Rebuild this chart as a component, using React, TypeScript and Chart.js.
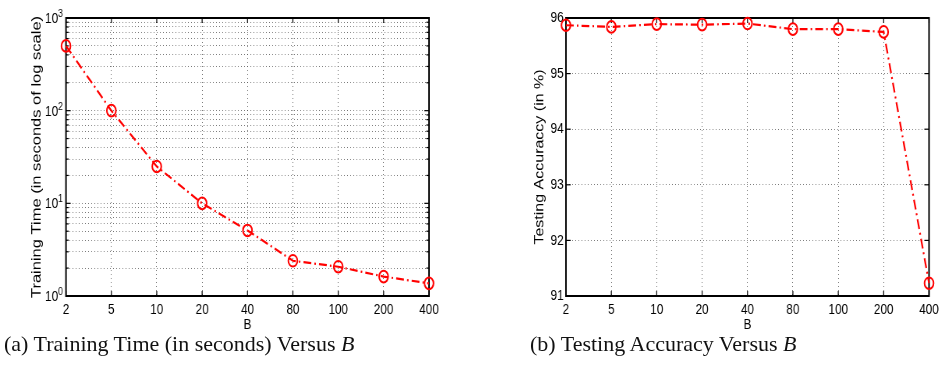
import React, { useEffect, useRef } from 'react';
import { Chart, registerables } from 'chart.js';

Chart.register(...registerables);

// ---- data ----
const bLabels = ['2', '5', '10', '20', '40', '80', '100', '200', '400'];
const trainingTime = [500, 100, 25, 10, 5.1, 2.4, 2.07, 1.62, 1.37];
const testingAccuracy = [95.87, 95.84, 95.89, 95.88, 95.9, 95.8, 95.8, 95.75, 91.23];
const logTickValues = [
  1, 2, 3, 4, 5, 6, 7, 8, 9,
  10, 20, 30, 40, 50, 60, 70, 80, 90,
  100, 200, 300, 400, 500, 600, 700, 800, 900,
  1000,
];
const logLabelExponents = [0, 1, 2, 3];
const accuracyTicks = [91, 92, 93, 94, 95, 96];

const SX = 0.78; // horizontal squeeze of the exported figure
const FONT = '"Liberation Sans", Arial, Helvetica, sans-serif';
const H = 340;

const isPow10 = (v: number) => Math.abs(Math.log10(v) - Math.round(Math.log10(v))) < 1e-9;

const framePlugin = {
  id: 'frame',
  beforeDatasetsDraw(chart: any) {
    const { ctx, chartArea: a, scales } = chart;
    const isLog = scales.y.type === 'logarithmic';
    ctx.save();
    ctx.strokeStyle = '#000';
    ctx.lineWidth = 1.2;
    const seg = (x1: number, y1: number, x2: number, y2: number) => {
      ctx.beginPath();
      ctx.moveTo(x1, y1);
      ctx.lineTo(x2, y2);
      ctx.stroke();
    };
    scales.x.ticks.forEach((_t: any, i: number) => {
      const px = scales.x.getPixelForTick(i);
      seg(px, a.bottom, px, a.bottom - 5);
      seg(px, a.top, px, a.top + 5);
    });
    scales.y.ticks.forEach((t: any) => {
      const py = scales.y.getPixelForValue(t.value);
      const len = !isLog || isPow10(t.value) ? 6 : 3.5;
      seg(a.left, py, a.left + len, py);
      seg(a.right, py, a.right - len, py);
    });
    ctx.lineWidth = 2;
    ctx.strokeRect(a.left, a.top, a.right - a.left, a.bottom - a.top);
    ctx.restore();
  },
};

const logLabelPlugin = {
  id: 'logLabels',
  afterDraw(chart: any) {
    const { ctx, chartArea: a, scales } = chart;
    if (scales.y.type !== 'logarithmic') return;
    ctx.save();
    ctx.fillStyle = '#000';
    logLabelExponents.forEach((e) => {
      const py = scales.y.getPixelForValue(Math.pow(10, e));
      const exp = String(e);
      ctx.font = `11px ${FONT}`;
      const ew = ctx.measureText(exp).width;
      const right = a.left - 4;
      ctx.textBaseline = 'alphabetic';
      ctx.textAlign = 'left';
      ctx.fillText(exp, right - ew, py - 1);
      ctx.font = `15px ${FONT}`;
      ctx.textAlign = 'right';
      ctx.textBaseline = 'middle';
      ctx.fillText('10', right - ew, py + 1);
    });
    ctx.restore();
  },
};

type Kind = 'time' | 'acc';

function makeConfig(kind: Kind): any {
  const isTime = kind === 'time';
  const padLeft = isTime ? 33.2 : 75.5;
  const yWidth = isTime ? 51.4 : 47.5;
  const padRight = isTime ? 53 : 12.5;
  const gridCommon = { color: 'rgba(0,0,0,0.55)', lineWidth: 1, drawTicks: false };
  const yScale: any = isTime
    ? {
        type: 'logarithmic',
        min: 1,
        max: 1000,
        afterBuildTicks: (s: any) => {
          s.ticks = logTickValues.map((v) => ({ value: v, major: isPow10(v) }));
        },
        ticks: { display: false },
        title: {
          display: true,
          text: 'Training Time (in seconds of log scale)',
          color: '#000',
          font: { size: 16.5, family: FONT },
          padding: { top: 4, bottom: 4 },
        },
      }
    : {
        type: 'linear',
        min: 91,
        max: 96,
        afterBuildTicks: (s: any) => {
          s.ticks = accuracyTicks.map((v) => ({ value: v }));
        },
        ticks: { color: '#000', font: { size: 15, family: FONT }, padding: 3 },
        title: {
          display: true,
          text: 'Testing Accuraccy (in %)',
          color: '#000',
          font: { size: 16, family: FONT },
          padding: { top: 4, bottom: 4 },
        },
      };
  yScale.grid = { ...gridCommon };
  yScale.border = { display: false, dash: [1, 3] };
  yScale.afterFit = (s: any) => {
    s.width = yWidth;
    s.paddingTop = 0;
    s.paddingBottom = 0;
  };

  return {
    type: 'line',
    data: {
      labels: bLabels,
      datasets: [
        {
          data: isTime ? trainingTime : testingAccuracy,
          borderColor: '#ff0000',
          borderWidth: 2.2,
          borderDash: [10, 4, 2, 4],
          pointStyle: 'circle',
          pointRadius: 5.8,
          pointBorderWidth: 2,
          pointBorderColor: '#ff0000',
          pointBackgroundColor: 'rgba(0,0,0,0)',
          fill: false,
          tension: 0,
          clip: false,
        },
      ],
    },
    options: {
      animation: false,
      responsive: false,
      devicePixelRatio: 1,
      layout: { padding: { left: padLeft, right: padRight, top: 18, bottom: 0 } },
      plugins: { legend: { display: false }, tooltip: { enabled: false } },
      scales: {
        x: {
          type: 'category',
          offset: false,
          grid: { ...gridCommon, offset: false },
          border: { display: false, dash: [1, 3] },
          ticks: {
            color: '#000',
            font: { size: 15, family: FONT },
            padding: 5,
            maxRotation: 0,
            autoSkip: false,
          },
          title: {
            display: true,
            text: 'B',
            color: '#000',
            font: { size: 15, family: FONT },
            padding: { top: 0, bottom: 6 },
          },
          afterFit: (s: any) => {
            s.height = 44;
            s.paddingLeft = 0;
            s.paddingRight = 0;
          },
        },
        y: yScale,
      },
    },
    plugins: [framePlugin, logLabelPlugin],
  };
}

function Panel({ kind, width, left }: { kind: Kind; width: number; left: number }) {
  const ref = useRef<HTMLCanvasElement | null>(null);
  useEffect(() => {
    if (!ref.current) return;
    const chart = new Chart(ref.current, makeConfig(kind));
    return () => chart.destroy();
  }, [kind]);
  return (
    <div
      style={{
        position: 'absolute',
        left,
        top: 0,
        width,
        height: H,
        transform: `scaleX(${SX})`,
        transformOrigin: '0 0',
      }}
    >
      <canvas ref={ref} width={width} height={H} style={{ width, height: H, display: 'block' }} />
    </div>
  );
}

const captionStyle: React.CSSProperties = {
  position: 'absolute',
  top: 332,
  fontFamily: '"Liberation Serif", "Times New Roman", serif',
  fontSize: 22,
  lineHeight: '24px',
  whiteSpace: 'nowrap',
  color: '#111',
};

export default function App() {
  return (
    <div
      style={{
        position: 'fixed',
        left: 0,
        top: 0,
        width: 939,
        height: 375,
        background: '#fff',
        overflow: 'hidden',
      }}
    >
      <Panel kind="time" width={603} left={0} />
      <Panel kind="acc" width={601} left={470} />
      <div style={{ ...captionStyle, left: 4 }}>
        (a) Training Time (in seconds) Versus <i>B</i>
      </div>
      <div style={{ ...captionStyle, left: 530 }}>
        (b) Testing Accuracy Versus <i>B</i>
      </div>
    </div>
  );
}
